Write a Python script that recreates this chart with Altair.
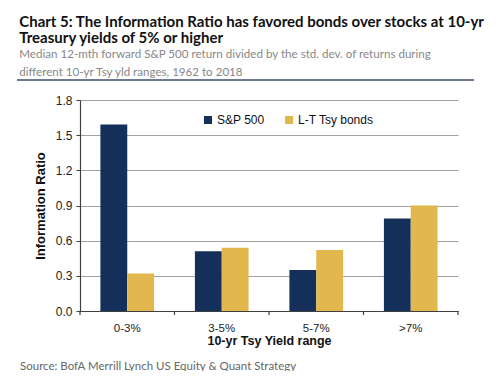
import altair as alt
import pandas as pd

categories = ["0-3%", "3-5%", "5-7%", ">7%"]
series = ["S&P 500", "L-T Tsy bonds"]
sp500 = [1.59, 0.51, 0.35, 0.79]
tsy = [0.32, 0.54, 0.52, 0.90]
y_ticks = [0.0, 0.3, 0.6, 0.9, 1.2, 1.5, 1.8]

title_lines = ["Chart 5: The Information Ratio has favored bonds over stocks at 10-yr",
               "Treasury yields of 5% or higher"]
subtitle_lines = ["Median 12-mth forward S&P 500 return divided by the std. dev. of returns during",
                  "different 10-yr Tsy yld ranges, 1962 to 2018"]
source_text = ["Source: BofA Merrill Lynch US Equity & Quant Strategy"]

rows = []
for c, a, b in zip(categories, sp500, tsy):
    rows.append({"range": c, "series": series[0], "value": a})
    rows.append({"range": c, "series": series[1], "value": b})
df = pd.DataFrame(rows)

W, H = 378, 211
NAVY = "#142f59"
GOLD = "#e2b84e"
AXIS_COL = "#404040"

xscale = alt.Scale(domain=categories, paddingInner=0, paddingOuter=0)
xaxis = alt.Axis(labelAngle=0, ticks=False, labelFont="Liberation Sans", labelFontSize=11.5,
                 labelColor="#222222", labelPadding=11, titleFont="Liberation Sans",
                 titleFontSize=12.5, titleFontWeight="bold", titleColor="#111111",
                 titlePadding=1, domainColor=AXIS_COL, domainWidth=1.2, grid=False)
XTITLE = "10-yr Tsy Yield range"

bars = alt.Chart(df).mark_bar().encode(
    x=alt.X("range:N", scale=xscale, sort=categories, axis=xaxis, title=XTITLE),
    xOffset=alt.XOffset("series:N", sort=series,
                        scale=alt.Scale(domain=series, paddingInner=0, paddingOuter=0.76)),
    y=alt.Y("value:Q", scale=alt.Scale(domain=[0, 1.8]), title="Information Ratio",
            axis=alt.Axis(values=y_ticks, format=".1f", labelFont="Liberation Sans",
                          labelFontSize=12, labelColor="#222222", tickSize=4,
                          tickColor=AXIS_COL, domainColor=AXIS_COL, domainWidth=1.2,
                          gridColor="#a0a0a0", gridWidth=1.2, titleFont="Liberation Sans",
                          titleFontSize=13, titleFontWeight="bold", titleColor="#111111",
                          titlePadding=8, labelPadding=4)),
    color=alt.Color("series:N", scale=alt.Scale(domain=series, range=[NAVY, GOLD]),
                    legend=alt.Legend(orient="none", legendX=122, legendY=14,
                                      direction="horizontal", title=None,
                                      symbolType="square", symbolSize=64,
                                      symbolStrokeWidth=0, labelFont="Liberation Sans",
                                      labelFontSize=12, labelColor="#111111",
                                      columnPadding=18, labelOffset=3, padding=0)),
)

ticks_a = alt.Chart(pd.DataFrame({"range": categories})).mark_rule(
    color=AXIS_COL, strokeWidth=1.2).encode(
    x=alt.X("range:N", scale=xscale, sort=categories, axis=xaxis, title=XTITLE, bandPosition=0),
    y=alt.value(H), y2=alt.value(H + 4))

ticks_b = alt.Chart(pd.DataFrame({"range": categories[-1:]})).mark_rule(
    color=AXIS_COL, strokeWidth=1.2).encode(
    x=alt.X("range:N", scale=xscale, sort=categories, axis=xaxis, title=XTITLE, bandPosition=1),
    y=alt.value(H), y2=alt.value(H + 4))

sep = alt.Chart(pd.DataFrame({"k": [0]})).mark_rule(color="#3e4d6e", strokeWidth=1.5).encode(
    x=alt.value(-63), x2=alt.value(W + 16), y=alt.value(-20))

src = alt.Chart(pd.DataFrame({"t": source_text})).mark_text(
    align="left", baseline="middle", font="Lato", fontSize=11.5, color="#666666").encode(
    text="t:N", x=alt.value(-60), y=alt.value(267))

chart = alt.layer(bars, ticks_a, ticks_b, sep, src).properties(
    width=W, height=H,
    autosize=alt.AutoSizeParams(type="none"),
    padding={"left": 72, "top": 92, "right": 34, "bottom": 60},
    title=alt.TitleParams(
        text=title_lines, subtitle=subtitle_lines, anchor="start", dx=3,
        font="Lato", fontSize=15, fontWeight="bold", color="#111111", lineHeight=16,
        subtitleFont="Lato", subtitleFontSize=11.6, subtitleColor="#888888",
        subtitleLineHeight=18, subtitlePadding=3, offset=1),
).configure_view(stroke=None)

chart.save("out.html", embed_options={"renderer": "svg", "actions": False})
